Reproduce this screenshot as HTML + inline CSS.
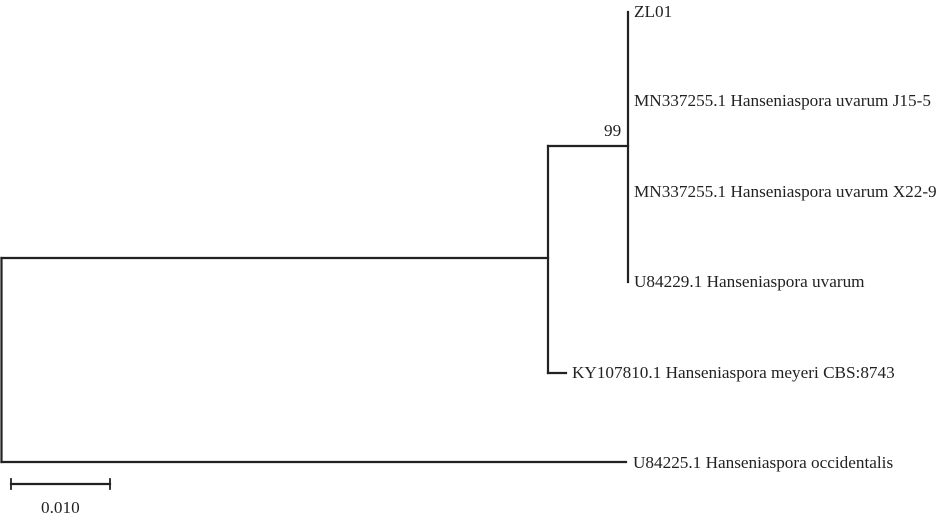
<!DOCTYPE html>
<html><head><style>
html,body{margin:0;padding:0;background:#fff;}
svg{display:block;}
text{font-family:"Liberation Serif",serif;font-size:17.2px;fill:#222;}
</style></head><body>
<svg width="942" height="520" viewBox="0 0 942 520" xmlns="http://www.w3.org/2000/svg">
<g stroke="#222" stroke-width="2.2" fill="none" stroke-linecap="square">
<path d="M1.5 258 V462"/>
<path d="M1.5 258 H548"/>
<path d="M1.5 462 H626"/>
<path d="M548 146 V373"/>
<path d="M548 146 H628"/>
<path d="M548 373 H566"/>
<path d="M628 12 V282"/>
<path d="M11 484 H110"/>
<path d="M11 479 V489 M110 479 V489" stroke-width="1.8"/>
</g>
<text x="634" y="17">ZL01</text>
<text x="634" y="106">MN337255.1 Hanseniaspora uvarum J15-5</text>
<text x="634" y="197">MN337255.1 Hanseniaspora uvarum X22-9</text>
<text x="634" y="287">U84229.1 Hanseniaspora uvarum</text>
<text x="572" y="378">KY107810.1 Hanseniaspora meyeri CBS:8743</text>
<text x="633" y="468">U84225.1 Hanseniaspora occidentalis</text>
<text x="604" y="136">99</text>
<text x="41" y="513">0.010</text>
</svg>
</body></html>
